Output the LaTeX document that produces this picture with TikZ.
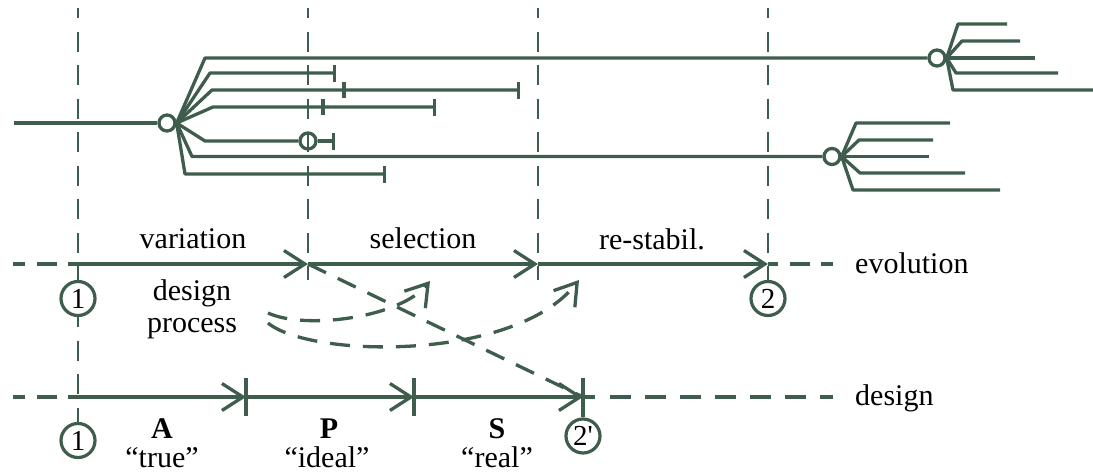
\documentclass[tikz,border=0pt]{standalone}
\usepackage{fontspec}
\setmainfont{Liberation Serif}
\newfontfamily\plainserif{Liberation Serif}
\usetikzlibrary{arrows.meta}
\definecolor{dg}{RGB}{62,93,77}
\begin{document}
\begin{tikzpicture}[x=1pt,y=-1pt,
  font=\fontsize{30}{32}\selectfont,
  ln/.style={draw=dg,line width=3.3pt,line join=round},
  hd/.style={draw=dg,line width=3.3pt,dash pattern=on 20pt off 13pt},
  vd/.style={draw=dg,line width=2pt,dash pattern=on 20pt off 13.5pt,dash phase=10pt},
  arr/.style={-{Straight Barb[length=21pt,width=27pt]}},
  endbar/.style={-{Bar[width=17pt]}},
  jn/.style={circle,draw=dg,line width=3.3pt,minimum size=16pt,inner sep=0pt},
  num/.style={circle,draw=dg,line width=3.2pt,minimum size=34pt,inner sep=0pt,font=\plainserif\fontsize{29}{29}\selectfont},
  lbl/.style={anchor=base,inner sep=0pt}
]
\path[use as bounding box] (0,0) rectangle (1093,474);

% ---------------- tree ----------------
\node[jn] (n1) at (167,123) {};
\node[jn] (n2) at (937,58) {};
\node[jn] (n3) at (832,156.5) {};
\node[jn] (n4) at (308,141) {};
\coordinate (r0) at (14,123);
\coordinate (b2) at (336,73);
\coordinate (b3) at (520,90);
\coordinate (b4) at (436,107);
\coordinate (b5) at (335,141);
\coordinate (b7) at (386,174);
\draw[ln] (r0) -- (n1.west);
\draw[ln] (n1.east) -- (205,58) -- (n2.west);
\draw[ln,endbar] (n1.east) -- (210,73) -- (b2);
\draw[ln,endbar] (n1.east) -- (212,90) -- (b3);
\draw[ln,endbar] (n1.east) -- (213,107) -- (b4);
\draw[ln] (n1.east) -- (205,141) -- (n4.west);
\draw[ln,endbar] (n4.east) -- (b5);
\draw[ln] (n1.east) -- (192,156.5) -- (n3.west);
\draw[ln,endbar] (n1.east) -- (185,174) -- (b7);
\draw[ln] (344,82) -- (344,98);
\draw[ln] (323,99) -- (323,115);
% node 2 fan
\coordinate (f2a) at (1007,24);
\coordinate (f2b) at (1020,41);
\coordinate (f2c) at (1035,58);
\coordinate (f2d) at (1058,73);
\coordinate (f2e) at (1093,90);
\draw[ln] (n2.east) -- (958,24) -- (f2a);
\draw[ln] (n2.east) -- (962,41) -- (f2b);
\draw[ln] (n2.east) -- (f2c);
\draw[ln] (n2.east) -- (956,73) -- (f2d);
\draw[ln] (n2.east) -- (953,90) -- (f2e);
% node 3 fan
\coordinate (f3a) at (950,123);
\coordinate (f3b) at (933,140);
\coordinate (f3c) at (929,156.5);
\coordinate (f3d) at (965,173);
\coordinate (f3e) at (1000,190);
\draw[ln] (n3.east) -- (856,123) -- (f3a);
\draw[ln] (n3.east) -- (859,140) -- (f3b);
\draw[ln] (n3.east) -- (f3c);
\draw[ln] (n3.east) -- (860,173) -- (f3d);
\draw[ln] (n3.east) -- (853,190) -- (f3e);

% ---------------- numbered circles ----------------
\node[num] (e1) at (78,298.5) {1};
\node[num] (d1) at (78,440.5) {1};
\node[num] (e2) at (768,298.5) {2};
\node[num] (d2) at (583,436) {2'};

% ---------------- vertical dashed lines ----------------
\coordinate (t1) at (78,8);
\coordinate (t2) at (308,8);
\coordinate (t3) at (538,8);
\coordinate (t4) at (768,8);
\coordinate (u2) at (308,280);
\coordinate (u3) at (538,280);
\draw[vd] (t1) -- (e1.north);
\draw[vd] (e1.south) -- (d1.north);
\draw[vd] (t2) -- (u2);
\draw[vd] (t3) -- (u3);
\draw[vd] (t4) -- (e2.north);

% ---------------- evolution line ----------------
\coordinate (el0) at (13,264);
\coordinate (el1) at (57,264);
\coordinate (ev0) at (68,264);
\coordinate (v1) at (308,264);
\coordinate (v2) at (538,264);
\coordinate (v3) at (768,264);
\coordinate (v4) at (778,264);
\coordinate (er0) at (790,264);
\coordinate (er1) at (833,264);
\draw[draw=dg,line width=3.3pt,dash pattern=on 12pt off 12pt on 20pt off 100pt] (el0) -- (el1);
\draw[ln,arr] (ev0) -- (v1);
\draw[ln,arr] (v1) -- (v2);
\draw[ln,arr] (v2) -- (v3);
\draw[ln] (v3) -- (v4);
\draw[draw=dg,line width=3.3pt,dash pattern=on 20pt off 11pt] (er0) -- (er1);

% ---------------- design line ----------------
\coordinate (dl0) at (13,397);
\coordinate (dl1) at (57,397);
\coordinate (d0) at (68,397);
\coordinate (p1) at (246,397);
\coordinate (p2) at (414,397);
\coordinate (p3) at (583,397);
\coordinate (p4) at (595,397);
\coordinate (dr0) at (610,397);
\coordinate (dr1) at (833,397);
\draw[draw=dg,line width=3.3pt,dash pattern=on 12pt off 12pt on 20pt off 100pt] (dl0) -- (dl1);
\draw[ln,arr] (d0) -- (p1);
\draw[ln,arr] (p1) -- (p2);
\draw[ln,arr] (p2) -- (p3);
\draw[ln] (p3) -- (p4);
\draw[draw=dg,line width=3.3pt,dash pattern=on 21pt off 14pt] (dr0) -- (dr1);
\draw[ln] (246,378) -- (246,416);
\draw[ln] (414,378) -- (414,416);
\draw[ln] (583,378) -- (d2.north);

% ---------------- dashed cross-links ----------------
\draw[hd] (v1) -- (p3);
\coordinate (c2s) at (268,313);
\coordinate (c2e) at (430,281);
\coordinate (c3s) at (268,323);
\coordinate (c3e) at (579,280);
\draw[hd,arr] (c2s) .. controls (305,330) and (400,318) .. (c2e);
\draw[hd,arr] (c3s) .. controls (310,358) and (515,362) .. (c3e);

% ---------------- labels ----------------
\node[lbl] (tvar) at (193,248) {variation};
\node[lbl] (tsel) at (423,248) {selection};
\node[lbl] (tres) at (652,249) {re-stabil.};
\node[lbl] (tdes) at (192,300) {design};
\node[lbl] (tpro) at (192,332) {process};
\node[lbl,anchor=base west] (tevo) at (855,273) {evolution};
\node[lbl,anchor=base west] (tdsg) at (855,405) {design};
\node[lbl] (tA) at (162,438) {\textbf{A}};
\node[lbl] (tAq) at (162,467) {“true”};
\node[lbl] (tP) at (329,438) {\textbf{P}};
\node[lbl] (tPq) at (327,467) {“ideal”};
\node[lbl] (tS) at (497,438) {\textbf{S}};
\node[lbl] (tSq) at (497,467) {“real”};
\end{tikzpicture}
\end{document}
